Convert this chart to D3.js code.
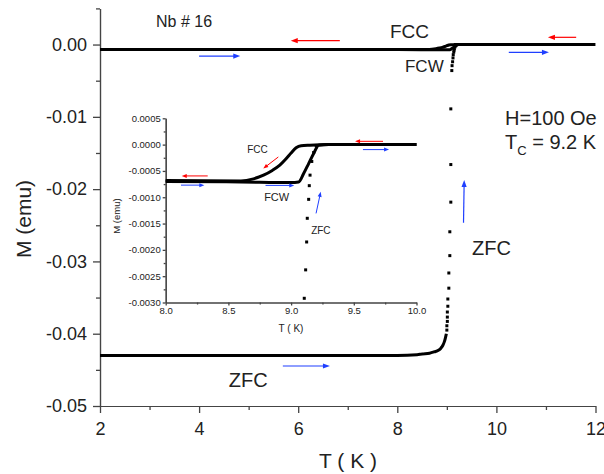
<!DOCTYPE html>
<html><head><meta charset="utf-8">
<script src="https://cdn.jsdelivr.net/npm/d3@7"></script>
<style>
body{margin:0;background:#fff}
svg{display:block}
text{font-family:"Liberation Sans",Arial,Helvetica,sans-serif;fill:#222}
</style>
</head><body>
<svg id="c" width="604" height="474"></svg>
<script>
// ---------- data ----------
const mainTicksX = [2, 4, 6, 8, 10, 12];
const mainMinorX = [3, 5, 7, 9, 11];
const mainTicksY = [0, -0.01, -0.02, -0.03, -0.04, -0.05];
const mainMinorY = [0.005, -0.005, -0.015, -0.025, -0.035, -0.045];
const insetTicksX = [8.0, 8.5, 9.0, 9.5, 10.0];
const insetMinorX = [8.25, 8.75, 9.25, 9.75];
const insetTicksY = [0.0005, 0, -0.0005, -0.001, -0.0015, -0.002, -0.0025, -0.003];
const insetMinorY = [0.00025, -0.00025, -0.00075, -0.00125, -0.00175, -0.00225, -0.00275];

// field-cooled cooling (FCC)
const fccT = [2, 4, 6, 8, 8.6, 8.7, 8.78, 8.85, 8.91, 8.96, 9.0, 9.04, 9.08, 9.15, 9.3, 10, 12];
const fccM = [-0.00068, -0.00068, -0.00068, -0.00068, -0.00069, -0.00065, -0.00058, -0.00049, -0.00039, -0.00027, -0.00016, -0.00006, -0.00002, -0.00001, 0, 0, 0];
// field-cooled warming (FCW)
const fcwT = [2, 4, 6, 8, 8.6, 9.0, 9.06, 9.1, 9.14, 9.18, 9.22, 9.3, 10, 12];
const fcwM = [-0.0007, -0.0007, -0.0007, -0.0007, -0.00071, -0.00072, -0.00071, -0.00055, -0.00036, -0.00017, -0.00001, 0, 0, 0];
// zero-field cooled (ZFC), continuous part
const zfcLineT = [2, 4, 6, 8, 8.4, 8.5, 8.65, 8.75, 8.83, 8.88, 8.92, 8.95, 8.97, 8.99];
const zfcLineM = [-0.0430, -0.0430, -0.0430, -0.0430, -0.0429, -0.0428, -0.0427, -0.0425, -0.0423, -0.0420, -0.0416, -0.0411, -0.0406, -0.0400];
// ZFC, sparse points in the transition
const zfcDotT = [9.00, 9.00, 9.01, 9.01, 9.01, 9.02, 9.02, 9.04, 9.04, 9.06, 9.06, 9.08, 9.08, 9.08, 9.10, 9.105, 9.116, 9.124, 9.129, 9.14, 9.145, 9.151, 9.165, 9.18, 9.2];
const zfcDotM = [-0.0395, -0.0389, -0.0383, -0.0377, -0.0370, -0.0362, -0.0352, -0.0337, -0.0316, -0.0292, -0.0259, -0.0218, -0.0166, -0.0089, -0.0036, -0.00292, -0.00238, -0.00185, -0.0014, -0.00104, -0.00078, -0.00058, -0.00032, -0.00015, -0.00002];

// annotation arrows (data units) : [fromT, fromM, toT, toM, colour]
const mainArrows = [
  [6.84, 0.00053, 5.85, 0.00053, "red"],
  [4.00, -0.00159, 4.83, -0.00159, "blue"],
  [11.61, 0.0010, 11.04, 0.0010, "red"],
  [10.25, -0.00108, 11.06, -0.00108, "blue"],
  [9.336, -0.02465, 9.35, -0.01874, "blue"],
  [5.69, -0.04447, 6.64, -0.04447, "blue"]
];
const insetArrows = [
  [8.335, -0.000595, 8.128, -0.000595, "red"],
  [8.122, -0.00077, 8.308, -0.00077, "blue"],
  [8.898, -0.000235, 8.778, -0.000455, "red"],
  [8.796, -0.000775, 9.025, -0.000775, "blue"],
  [9.199, -0.001307, 9.236, -0.000898, "blue"],
  [9.733, 0.0000625, 9.51, 0.0000625, "red"],
  [9.573, -0.0000947, 9.781, -0.0000947, "blue"]
];
// labels : [text, T, M, size]
const mainLabels = [
  ["Nb # 16", 3.13, 0.00242, 16],
  ["FCC", 7.853, 0.0009, 19],
  ["FCW", 8.155, -0.0038, 17],
  ["H=100 Oe", 10.174, -0.01113, 20],
  ["ZFC", 9.507, -0.02911, 20],
  ["ZFC", 4.6, -0.04733, 20]
];
const insetLabels = [
  ["FCC", 8.65, -0.00016, 10],
  ["FCW", 8.785, -0.00107, 11],
  ["ZFC", 9.16, -0.00169, 10]
];

// ---------- drawing ----------
const svg = d3.select("#c");
const COL = {red: "#ff0000", blue: "#1f3fff"};
const AX = "#444";

const x = d3.scaleLinear([2, 12], [100, 595.5]);
const y = d3.scaleLinear([-0.05, 0.005], [406, 8.4]);
const xi = d3.scaleLinear([8, 10], [165.7, 416.5]);
const yi = d3.scaleLinear([-0.003, 0.0005], [302.5, 118.3]);

svg.append("defs").call(d => {
  d.append("clipPath").attr("id", "cm").append("rect")
    .attr("x", 100).attr("y", 8.4).attr("width", 495.5).attr("height", 397.6);
  d.append("clipPath").attr("id", "ci").append("rect")
    .attr("x", 165.7).attr("y", 118.3).attr("width", 250.8).attr("height", 184.2);
});

function styleAxis(g, fs) {
  g.select(".domain").attr("stroke", AX).attr("stroke-width", 1.3);
  g.selectAll(".tick line").attr("stroke", AX).attr("stroke-width", 1.3);
  g.selectAll(".tick text").attr("fill", "#222").style("font-size", fs + "px")
    .style("font-family", '"Liberation Sans",Arial,sans-serif');
}

// main axes
svg.append("g").attr("transform", "translate(0,406)")
  .call(d3.axisBottom(x).tickValues(mainTicksX).tickSize(7).tickSizeOuter(0).tickPadding(9).tickFormat(d => d))
  .call(g => styleAxis(g, 18));
svg.append("g").attr("transform", "translate(0,406)")
  .call(d3.axisBottom(x).tickValues(mainMinorX).tickSize(4).tickSizeOuter(0).tickFormat(""))
  .call(g => styleAxis(g, 18));
svg.append("g").attr("transform", "translate(100,0)")
  .call(d3.axisLeft(y).tickValues(mainTicksY).tickSize(7).tickSizeOuter(0).tickPadding(6).tickFormat(d => d.toFixed(2)))
  .call(g => styleAxis(g, 18));
svg.append("g").attr("transform", "translate(100,0)")
  .call(d3.axisLeft(y).tickValues(mainMinorY).tickSize(4).tickSizeOuter(0).tickFormat(""))
  .call(g => styleAxis(g, 18));

svg.append("text").attr("x", 348).attr("y", 468).attr("text-anchor", "middle")
  .style("font-size", "21px").text("T ( K )");
svg.append("text").attr("transform", "translate(31,219) rotate(-90)").attr("text-anchor", "middle")
  .style("font-size", "21px").text("M (emu)");

// main data
const lineMain = d3.line().x(d => x(d[0])).y(d => y(d[1])).curve(d3.curveMonotoneX);
const gm = svg.append("g").attr("clip-path", "url(#cm)");
[[fccT, fccM], [fcwT, fcwM], [zfcLineT, zfcLineM]].forEach(([t, m]) => {
  gm.append("path").datum(d3.zip(t, m)).attr("d", lineMain)
    .attr("fill", "none").attr("stroke", "#000").attr("stroke-width", 3);
});
gm.selectAll("rect.zd").data(d3.zip(zfcDotT, zfcDotM)).join("rect").attr("class", "zd")
  .attr("x", d => x(d[0]) - 1.5).attr("y", d => y(d[1]) - 1.5)
  .attr("width", 3).attr("height", 3).attr("fill", "#000");

// arrows
function drawArrows(g, list, sx, sy, L, W, sw) {
  list.forEach(([t0, m0, t1, m1, c]) => {
    const x0 = sx(t0), y0 = sy(m0), x1 = sx(t1), y1 = sy(m1);
    const dx = x1 - x0, dy = y1 - y0, len = Math.hypot(dx, dy);
    const ux = dx / len, uy = dy / len, px = -uy, py = ux;
    const bx = x1 - ux * L, by = y1 - uy * L;
    g.append("line").attr("x1", x0).attr("y1", y0).attr("x2", bx + ux).attr("y2", by + uy)
      .attr("stroke", COL[c]).attr("stroke-width", sw);
    g.append("path")
      .attr("d", `M${x1},${y1}L${bx + px * W},${by + py * W}L${bx - px * W},${by - py * W}Z`)
      .attr("fill", COL[c]);
  });
}
drawArrows(svg.append("g"), mainArrows, x, y, 7, 2.6, 1.2);

// main labels
mainLabels.forEach(([txt, t, m, fs]) => {
  svg.append("text").attr("x", x(t)).attr("y", y(m)).style("font-size", fs + "px").text(txt);
});
const tc = svg.append("text").attr("x", x(10.174)).attr("y", y(-0.01445)).style("font-size", "20px");
tc.append("tspan").text("T");
tc.append("tspan").attr("dy", 6).style("font-size", "13px").text("C");
tc.append("tspan").attr("dy", -6).text(" = 9.2 K");

// ---------- inset ----------
svg.append("g").attr("transform", "translate(0,302.5)")
  .call(d3.axisBottom(xi).tickValues(insetTicksX).tickSize(3).tickSizeOuter(0).tickPadding(2).tickFormat(d => d.toFixed(1)))
  .call(g => styleAxis(g, 9.5));
svg.append("g").attr("transform", "translate(0,302.5)")
  .call(d3.axisBottom(xi).tickValues(insetMinorX).tickSize(2).tickSizeOuter(0).tickFormat(""))
  .call(g => styleAxis(g, 9.5));
svg.append("g").attr("transform", "translate(165.7,0)")
  .call(d3.axisLeft(yi).tickValues(insetTicksY).tickSize(3).tickSizeOuter(0).tickPadding(2).tickFormat(d => d.toFixed(4)))
  .call(g => styleAxis(g, 9.5));
svg.append("g").attr("transform", "translate(165.7,0)")
  .call(d3.axisLeft(yi).tickValues(insetMinorY).tickSize(2).tickSizeOuter(0).tickFormat(""))
  .call(g => styleAxis(g, 9.5));
svg.selectAll("g .domain").attr("stroke-width", 1.2);

svg.append("text").attr("x", 291).attr("y", 331.5).attr("text-anchor", "middle")
  .style("font-size", "10px").text("T ( K)");
svg.append("text").attr("transform", "translate(119.5,216) rotate(-90)").attr("text-anchor", "middle")
  .style("font-size", "9.5px").text("M (emu)");

const lineIn = d3.line().x(d => xi(d[0])).y(d => yi(d[1])).curve(d3.curveMonotoneX);
const gi = svg.append("g").attr("clip-path", "url(#ci)");
[[fccT, fccM], [fcwT, fcwM]].forEach(([t, m]) => {
  gi.append("path").datum(d3.zip(t, m)).attr("d", lineIn)
    .attr("fill", "none").attr("stroke", "#000").attr("stroke-width", 3);
});
gi.selectAll("rect.zi").data(d3.zip(zfcDotT, zfcDotM).filter(d => d[1] >= -0.00305)).join("rect").attr("class", "zi")
  .attr("x", d => xi(d[0]) - 1.5).attr("y", d => yi(d[1]) - 1.5)
  .attr("width", 3).attr("height", 3).attr("fill", "#000");

drawArrows(svg.append("g"), insetArrows, xi, yi, 5, 2, 1);

insetLabels.forEach(([txt, t, m, fs]) => {
  svg.append("text").attr("x", xi(t)).attr("y", yi(m)).style("font-size", fs + "px").text(txt);
});
</script>
</body></html>
